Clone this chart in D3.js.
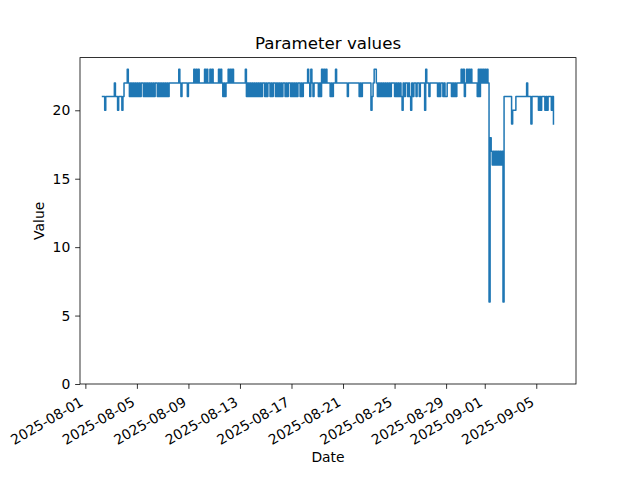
<!DOCTYPE html>
<html>
<head>
<meta charset="utf-8">
<script src="https://cdn.jsdelivr.net/npm/d3@7"></script>
<style>
  html, body { margin: 0; padding: 0; background: #fff; }
  svg { display: block; font-family: "DejaVu Sans", sans-serif; }
</style>
</head>
<body>
<svg id="chart" width="640" height="480"></svg>
<script>
// ---- Data ----
const titleText = "Parameter values";
const xLabel = "Date";
const yLabel = "Value";
const startTime = "2025-08-02T08:00:00Z";   // first sample
const stepHours = 2;                        // sampling interval
// values grouped by day (12 samples per day, every 2 hours)
const values = [
  /* Aug 02 from 08h */ 21,21,20,21,21,21,21,21,
  /* Aug 03 */ 21,21,21,22,21,21,20,21,21,21,20,21,
  /* Aug 04 */ 22,22,22,23,22,21,22,21,22,21,22,21,
  /* Aug 05 */ 22,21,22,21,22,22,21,22,21,22,21,22,
  /* Aug 06 */ 21,22,21,22,21,22,22,21,22,21,22,21,
  /* Aug 07 */ 22,21,22,21,22,21,22,22,22,22,22,22,
  /* Aug 08 */ 22,22,22,23,22,21,22,22,22,22,22,21,
  /* Aug 09 */ 22,22,22,22,22,23,22,23,22,23,22,22,
  /* Aug 10 */ 22,22,22,23,22,23,22,22,23,22,23,22,
  /* Aug 11 */ 22,22,22,22,23,22,23,22,21,22,21,22,
  /* Aug 12 */ 22,23,22,23,22,23,22,22,22,22,22,22,
  /* Aug 13 */ 22,22,22,22,22,23,21,22,21,22,21,22,
  /* Aug 14 */ 21,22,21,22,21,22,21,22,21,22,22,21,
  /* Aug 15 */ 22,21,22,22,21,22,21,22,22,21,22,21,
  /* Aug 16 */ 22,21,22,21,22,22,21,22,21,22,22,21,
  /* Aug 17 */ 22,21,22,21,22,21,22,22,21,22,21,22,
  /* Aug 18 */ 22,22,22,23,22,21,23,22,21,22,22,22,
  /* Aug 19 */ 22,21,22,21,23,22,23,22,23,22,22,22,
  /* Aug 20 */ 21,22,21,22,22,23,22,22,22,22,22,22,
  /* Aug 21 */ 22,22,22,22,21,22,22,22,22,22,22,22,
  /* Aug 22 */ 22,22,22,21,22,21,22,22,22,22,22,22,
  /* Aug 23 */ 22,22,20,21,22,23,23,22,21,22,21,22,
  /* Aug 24 */ 21,22,21,22,21,22,21,22,21,22,22,22,
  /* Aug 25 */ 21,22,21,22,21,22,21,20,22,21,22,22,
  /* Aug 26 */ 21,22,21,20,22,21,22,22,21,22,22,21,
  /* Aug 27 */ 22,22,22,22,20,23,22,22,21,22,22,22,
  /* Aug 28 */ 22,22,22,22,21,22,21,22,22,21,22,21,
  /* Aug 29 */ 21,22,22,22,22,21,22,21,22,21,22,22,
  /* Aug 30 */ 22,22,23,22,23,21,22,23,22,23,22,23,
  /* Aug 31 */ 22,22,22,22,22,21,23,21,23,22,23,22,
  /* Sep 01 */ 23,22,23,22,6,18,17,16,17,16,17,16,
  /* Sep 02 */ 17,16,17,16,17,6,21,21,21,21,21,21,
  /* Sep 03 */ 21,19,20,20,20,21,21,21,21,21,21,21,
  /* Sep 04 */ 21,21,21,22,21,21,21,19,21,21,21,21,
  /* Sep 05 */ 21,21,20,21,20,21,21,21,20,21,20,21,
  /* Sep 06 */ 21,21,20,21,19
];
const xTickDates = ["2025-08-01","2025-08-05","2025-08-09","2025-08-13","2025-08-17",
                    "2025-08-21","2025-08-25","2025-08-29","2025-09-01","2025-09-05"];
const yTicks = [0, 5, 10, 15, 20];

(function draw() {
  const t0 = new Date(startTime).getTime();
  const series = values.map((v, i) => ({ date: new Date(t0 + i * stepHours * 3600e3), value: v }));

  const mL = 80, mR = 576, mT = 57.6, mB = 384;
  const svg = d3.select("#chart");

  const [dMin, dMax] = d3.extent(series, d => d.date);
  const span = dMax - dMin;
  const x = d3.scaleUtc()
    .domain([new Date(+dMin - 0.05 * span), new Date(+dMax + 0.05 * span)])
    .range([mL, mR]);

  const vMax = d3.max(values), vMin = d3.min(values);
  const y = d3.scaleLinear()
    .domain([0, vMax + 0.05 * (vMax - vMin)])
    .range([mB, mT]);

  const line = d3.line().curve(d3.curveStepAfter).x(d => x(d.date)).y(d => y(d.value));
  svg.append("path")
    .datum(series)
    .attr("d", line)
    .attr("fill", "none")
    .attr("stroke", "#1f77b4")
    .attr("stroke-width", 1.5)
    .attr("stroke-linejoin", "round")
    .attr("stroke-linecap", "square");

  svg.append("rect")
    .attr("x", mL).attr("y", mT)
    .attr("width", mR - mL).attr("height", mB - mT)
    .attr("fill", "none").attr("stroke", "#000").attr("stroke-width", 0.8);

  const fontPx = 13.9;

  const parseDay = d3.utcParse("%Y-%m-%d");
  const fmt = d3.utcFormat("%Y-%m-%d");
  const xAxis = d3.axisBottom(x)
    .tickValues(xTickDates.map(parseDay))
    .tickFormat(fmt)
    .tickSize(4.86)
    .tickPadding(4.86);
  const gx = svg.append("g").attr("transform", `translate(0,${mB})`).call(xAxis);
  gx.select(".domain").remove();
  gx.selectAll(".tick line").attr("stroke", "#000").attr("stroke-width", 0.8);
  gx.selectAll(".tick text")
    .attr("font-size", fontPx)
    .attr("font-family", "DejaVu Sans, sans-serif")
    .attr("fill", "#000")
    .attr("text-anchor", "end")
    .attr("y", null).attr("dy", null)
    .attr("transform", "translate(-1.6,20.8) rotate(-30)");

  const yAxis = d3.axisLeft(y)
    .tickValues(yTicks)
    .tickFormat(d3.format("d"))
    .tickSize(4.86)
    .tickPadding(4.86);
  const gy = svg.append("g").attr("transform", `translate(${mL},0)`).call(yAxis);
  gy.select(".domain").remove();
  gy.selectAll(".tick line").attr("stroke", "#000").attr("stroke-width", 0.8);
  gy.selectAll(".tick text")
    .attr("font-size", fontPx)
    .attr("font-family", "DejaVu Sans, sans-serif")
    .attr("fill", "#000");

  svg.append("text")
    .attr("x", (mL + mR) / 2).attr("y", 49)
    .attr("text-anchor", "middle")
    .attr("font-size", 16.67)
    .attr("fill", "#000")
    .text(titleText);

  svg.append("text")
    .attr("x", (mL + mR) / 2).attr("y", 462)
    .attr("text-anchor", "middle")
    .attr("font-size", fontPx)
    .attr("fill", "#000")
    .text(xLabel);

  svg.append("text")
    .attr("transform", `translate(44,${(mT + mB) / 2}) rotate(-90)`)
    .attr("text-anchor", "middle")
    .attr("font-size", fontPx)
    .attr("fill", "#000")
    .text(yLabel);
})();
</script>
</body>
</html>
